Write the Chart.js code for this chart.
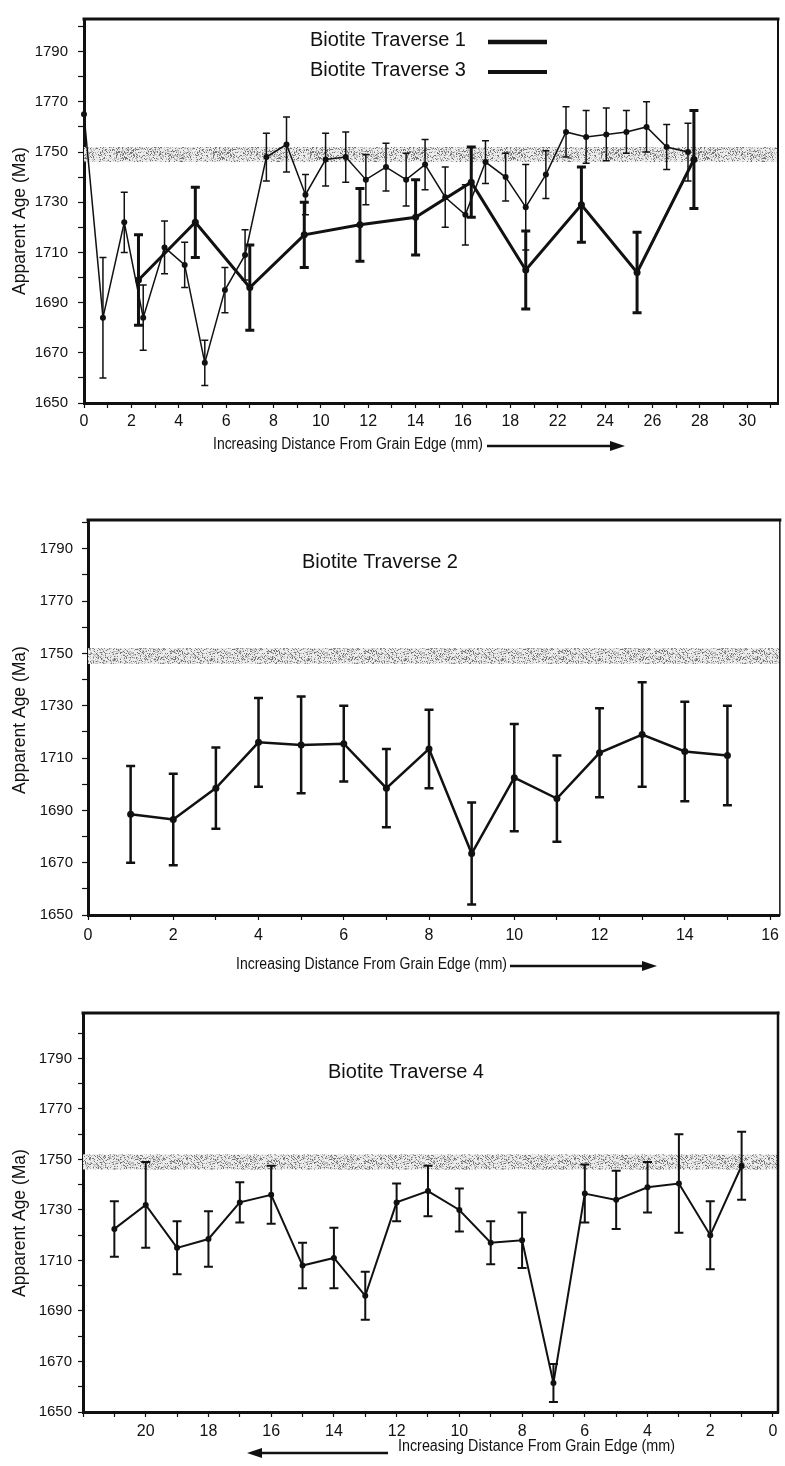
<!DOCTYPE html>
<html>
<head>
<meta charset="utf-8">
<script src="https://cdn.jsdelivr.net/npm/chart.js@4.4.1/dist/chart.umd.min.js"></script>
<style>
  html, body { margin: 0; padding: 0; background: #fff; }
  body { width: 785px; height: 1466px; position: relative; overflow: hidden; }
  canvas { position: absolute; left: 0; }
</style>
</head>
<body>
<canvas id="c1" width="785" height="470" style="top:0px"></canvas>
<canvas id="c2" width="785" height="510" style="top:470px"></canvas>
<canvas id="c3" width="785" height="486" style="top:980px"></canvas>
<script>
// ---- Data -------------------------------------------------------------
// Reference age band (Ma)
const bandRange = [1746, 1752];
const yLabels = [1650, 1670, 1690, 1710, 1730, 1750, 1770, 1790];

// Top panel: Traverses 1 and 3 (position along the axis, age, 1-sigma error)
const xLabels1 = ['0', '2', '4', '6', '8', '10', '12', '14', '16', '18', '22', '24', '26', '28', '30'];
const t1Pos = [2.3, 4.7, 7.0, 9.3, 11.65, 14.0, 16.35, 18.65, 21.0, 23.35, 25.75];
const t1Age = [1699, 1722, 1696, 1717, 1721, 1724, 1738, 1703, 1729, 1702, 1747];
const t1Err = [18, 14, 17, 13, 14.5, 15, 14, 15.5, 15, 16, 19.5];

const t3Pos = [0, 0.8, 1.7, 2.5, 3.4, 4.25, 5.1, 5.95, 6.8, 7.7, 8.55, 9.35, 10.2, 11.05, 11.9, 12.75,
               13.6, 14.4, 15.25, 16.1, 16.95, 17.8, 18.65, 19.5, 20.35, 21.2, 22.05, 22.9, 23.75, 24.6, 25.5];
const t3Age = [1765, 1684, 1722, 1684, 1712, 1705, 1666, 1695, 1709, 1748, 1753, 1733, 1747, 1748, 1739, 1744,
               1739, 1745, 1732, 1725, 1746, 1740, 1728, 1741, 1758, 1756, 1757, 1758, 1760, 1752, 1750];
const t3Err = [0, 24, 12, 13, 10.5, 9, 9, 9, 10, 9.5, 11, 8, 10.5, 10, 10, 9.5,
               10.5, 10, 12, 12, 8.5, 9.5, 17, 9.5, 10, 10.5, 10.5, 8.5, 10, 9, 11.5];

// Middle panel: Traverse 2
const xLabels2 = [0, 2, 4, 6, 8, 10, 12, 14, 16];
const t2Pos = [1, 2, 3, 4, 5, 6, 7, 8, 9, 10, 11, 12, 13, 14, 15];
const t2Age = [1688.5, 1686.5, 1698.5, 1716, 1715, 1715.5, 1698.5, 1713.5, 1673.5, 1702.5, 1694.5, 1712, 1719, 1712.5, 1711];
const t2Err = [18.5, 17.5, 15.5, 17, 18.5, 14.5, 15, 15, 19.5, 20.5, 16.5, 17, 20, 19, 19];

// Bottom panel: Traverse 4 (distance axis runs right to left)
const xLabels3 = [20, 18, 16, 14, 12, 10, 8, 6, 4, 2, 0];
const t4Pos = [21, 20, 19, 18, 17, 16, 15, 14, 13, 12, 11, 10, 9, 8, 7, 6, 5, 4, 3, 2, 1];
const t4Age = [1722.5, 1732, 1715, 1718.5, 1733, 1736, 1708, 1711, 1696, 1733, 1737.5, 1730, 1717, 1718,
               1661.5, 1736.5, 1734, 1739, 1740.5, 1720, 1747.5];
const t4Err = [11, 17, 10.5, 11, 8, 11.5, 9, 12, 9.5, 7.5, 10, 8.5, 8.5, 11, 7.5, 11.5, 11.5, 10, 19.5, 13.5, 13.5];

// ---- Drawing helpers ----------------------------------------------------
const TICK_FONT = "'Liberation Sans', Arial, sans-serif";
const TEXT_FONT = "'Liberation Sans', Arial, sans-serif";
const INK = '#111';

const pts = (xs, ys) => xs.map((v, i) => ({ x: v, y: ys[i] }));

let stippleCanvas = null;
function stipplePattern(ctx) {
  if (!stippleCanvas) {
    const n = 97;
    stippleCanvas = document.createElement('canvas');
    stippleCanvas.width = stippleCanvas.height = n;
    const g = stippleCanvas.getContext('2d');
    const img = g.createImageData(n, n);
    let s = 20231;
    for (let i = 0; i < n * n; i++) {
      s = (s * 1103515245 + 12345) & 0x7fffffff;
      const r = s / 0x7fffffff;
      const v = r < 0.16 ? 115 : r < 0.38 ? 185 : 236;
      img.data[i * 4] = img.data[i * 4 + 1] = img.data[i * 4 + 2] = v;
      img.data[i * 4 + 3] = 255;
    }
    g.putImageData(img, 0, 0);
  }
  return ctx.createPattern(stippleCanvas, 'repeat');
}

// text squeezed horizontally to a given width (condensed look)
function fitText(ctx, text, x, y, width) {
  const w = ctx.measureText(text).width;
  ctx.save();
  ctx.translate(x, y);
  ctx.scale(width / w, 1);
  ctx.fillText(text, 0, 0);
  ctx.restore();
}

function arrow(ctx, x0, x1, y) {
  const dir = Math.sign(x1 - x0);
  const head = 15;
  ctx.save();
  ctx.strokeStyle = INK; ctx.fillStyle = INK; ctx.lineWidth = 2.5;
  ctx.beginPath(); ctx.moveTo(x0, y); ctx.lineTo(x1 - dir * head, y); ctx.stroke();
  ctx.beginPath();
  ctx.moveTo(x1, y);
  ctx.lineTo(x1 - dir * head, y - 5);
  ctx.lineTo(x1 - dir * head, y + 5);
  ctx.closePath(); ctx.fill();
  ctx.restore();
}

const decor = {
  id: 'decor',
  beforeDatasetsDraw(chart, args, o) {
    const { ctx, chartArea: a, scales: { x, y } } = chart;
    // stippled reference band
    ctx.save();
    ctx.beginPath(); ctx.rect(a.left, a.top, a.right - a.left, a.bottom - a.top); ctx.clip();
    const yHi = y.getPixelForValue(bandRange[1]);
    const yLo = y.getPixelForValue(bandRange[0]);
    ctx.fillStyle = stipplePattern(ctx);
    ctx.fillRect(a.left, yHi, a.right - a.left, yLo - yHi);
    ctx.restore();
    // error bars
    chart.data.datasets.forEach(ds => {
      if (!ds.errors) return;
      ctx.save();
      ctx.strokeStyle = INK; ctx.lineWidth = ds.errWidth;
      ds.data.forEach((p, k) => {
        const e = ds.errors[k];
        if (!e) return;
        const px = x.getPixelForValue(p.x);
        const top = y.getPixelForValue(p.y + e);
        const bot = y.getPixelForValue(p.y - e);
        const h = ds.capWidth / 2;
        ctx.beginPath();
        ctx.moveTo(px, top); ctx.lineTo(px, bot);
        ctx.moveTo(px - h, top); ctx.lineTo(px + h, top);
        ctx.moveTo(px - h, bot); ctx.lineTo(px + h, bot);
        ctx.stroke();
      });
      ctx.restore();
    });
  },
  afterDraw(chart, args, o) {
    const { ctx, chartArea: a } = chart;
    // top and right frame lines
    ctx.save();
    ctx.strokeStyle = INK; ctx.lineCap = 'square';
    ctx.lineWidth = o.frame.top;
    ctx.beginPath(); ctx.moveTo(a.left, a.top); ctx.lineTo(a.right, a.top); ctx.stroke();
    ctx.lineWidth = o.frame.right;
    ctx.beginPath(); ctx.moveTo(a.right, a.top); ctx.lineTo(a.right, a.bottom); ctx.stroke();
    ctx.restore();

    ctx.save();
    ctx.fillStyle = INK;
    ctx.textBaseline = 'middle';
    // vertical axis title
    ctx.save();
    ctx.translate(o.yTitle.x, o.yTitle.y);
    ctx.rotate(-Math.PI / 2);
    ctx.textAlign = 'center';
    ctx.font = '17.5px ' + TEXT_FONT;
    ctx.fillText(o.yTitle.text, 0, 0);
    ctx.restore();
    // horizontal axis title with direction arrow
    ctx.textAlign = 'left';
    ctx.font = '16px ' + TEXT_FONT;
    fitText(ctx, o.xTitle.text, o.xTitle.x, o.xTitle.y, o.xTitle.w);
    arrow(ctx, o.xTitle.arrow[0], o.xTitle.arrow[1], o.xTitle.arrow[2]);
    // in-plot captions and legend rows
    ctx.font = '20px ' + TEXT_FONT;
    (o.notes || []).forEach(n => {
      ctx.fillText(n.text, n.x, n.y);
      if (n.line) {
        ctx.save();
        ctx.strokeStyle = INK; ctx.lineWidth = n.line[3];
        ctx.beginPath(); ctx.moveTo(n.line[0], n.line[2]); ctx.lineTo(n.line[1], n.line[2]); ctx.stroke();
        ctx.restore();
      }
    });
    ctx.restore();
  }
};

function yScale(max, tickLen, pad, width) {
  return {
    type: 'linear', min: 1650, max: max,
    afterFit: s => { s.width = width; },
    border: { display: true, color: INK, width: 3 },
    grid: { drawOnChartArea: false, drawTicks: true, tickLength: tickLen, color: INK, tickWidth: 1.2 },
    ticks: {
      stepSize: 10, autoSkip: false, includeBounds: false, padding: pad, color: INK,
      font: { family: TICK_FONT, size: 15 },
      callback: v => yLabels.includes(v) ? String(v) : ''
    }
  };
}

function xScale(min, max, height, pad, cb, reverse) {
  return {
    type: 'linear', min: min, max: max, reverse: !!reverse,
    afterFit: s => { s.height = height; },
    border: { display: true, color: INK, width: 3 },
    grid: { drawOnChartArea: false, drawTicks: true, tickLength: 5, color: INK, tickWidth: 1.2 },
    ticks: {
      stepSize: 1, autoSkip: false, includeBounds: false, maxRotation: 0, padding: pad, color: INK,
      font: { family: TICK_FONT, size: 16 },
      callback: cb
    }
  };
}

function lineSet(label, xs, ys, errs, lw, radius, errW, capW) {
  return {
    label, data: pts(xs, ys), errors: errs, errWidth: errW, capWidth: capW,
    borderColor: INK, backgroundColor: INK, borderWidth: lw,
    pointRadius: radius, pointBackgroundColor: INK, pointBorderWidth: 0,
    tension: 0, clip: false
  };
}

function panel(id, cfg) {
  return new Chart(document.getElementById(id), {
    type: 'line',
    data: { datasets: cfg.datasets },
    options: {
      responsive: false, animation: false,
      layout: { padding: { top: cfg.top, right: cfg.right, left: 0, bottom: 0 } },
      scales: { x: cfg.x, y: cfg.y },
      plugins: {
        legend: { display: false }, tooltip: { enabled: false },
        decor: cfg.decor
      }
    },
    plugins: [decor]
  });
}

// ---- Top panel: Traverses 1 and 3 ----
panel('c1', {
  top: 5, right: 7,
  datasets: [
    lineSet('Biotite Traverse 3', t3Pos, t3Age, t3Err, 1.5, 3, 1.5, 7),
    lineSet('Biotite Traverse 1', t1Pos, t1Age, t1Err, 3, 3.5, 3, 9)
  ],
  x: xScale(0, 29.3, 67, 4, v => (v % 2 === 0 && xLabels1[v / 2] !== undefined) ? xLabels1[v / 2] : ''),
  y: yScale(1803, 6, 10, 84),
  decor: {
    frame: { top: 3, right: 2 },
    yTitle: { text: 'Apparent Age (Ma)', x: 20, y: 221 },
    xTitle: { text: 'Increasing Distance From Grain Edge (mm)', x: 213, y: 445, w: 270, arrow: [487, 625, 446] },
    notes: [
      { text: 'Biotite Traverse 1', x: 310, y: 40, line: [488, 547, 42, 4.5] },
      { text: 'Biotite Traverse 3', x: 310, y: 70, line: [488, 547, 72, 4] }
    ]
  }
});

// ---- Middle panel: Traverse 2 ----
panel('c2', {
  top: 50, right: 2,
  datasets: [lineSet('Biotite Traverse 2', t2Pos, t2Age, t2Err, 2.5, 3.5, 2.5, 9)],
  x: xScale(0, 16.23, 65, 6, v => xLabels2.includes(v) ? String(v) : ''),
  y: yScale(1801, 6, 9, 88),
  decor: {
    frame: { top: 3, right: 1.5 },
    yTitle: { text: 'Apparent Age (Ma)', x: 20, y: 250 },
    xTitle: { text: 'Increasing Distance From Grain Edge (mm)', x: 236, y: 495, w: 271, arrow: [510, 657, 496] },
    notes: [{ text: 'Biotite Traverse 2', x: 302, y: 92 }]
  }
});

// ---- Bottom panel: Traverse 4 ----
panel('c3', {
  top: 33, right: 7,
  datasets: [lineSet('Biotite Traverse 4', t4Pos, t4Age, t4Err, 2, 3, 2, 9)],
  x: xScale(-0.16, 22, 54, 5, v => xLabels3.includes(v) ? String(v) : '', true),
  y: yScale(1808, 5, 6, 83),
  decor: {
    frame: { top: 3, right: 2.5 },
    yTitle: { text: 'Apparent Age (Ma)', x: 20, y: 243 },
    xTitle: { text: 'Increasing Distance From Grain Edge (mm)', x: 398, y: 467, w: 277, arrow: [388, 247, 473] },
    notes: [{ text: 'Biotite Traverse 4', x: 328, y: 92 }]
  }
});
</script>
</body>
</html>
